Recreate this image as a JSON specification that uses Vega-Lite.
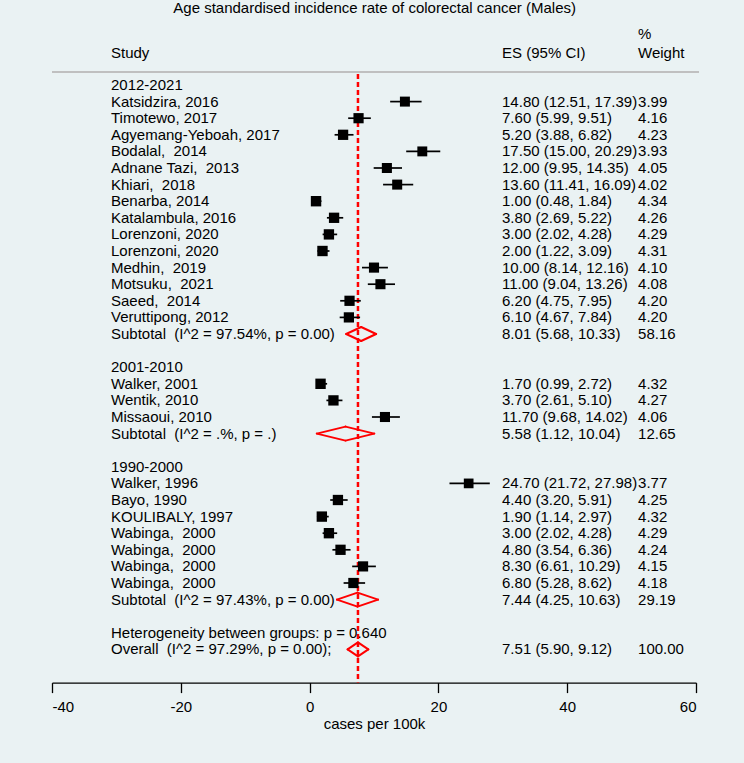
{
  "$schema": "https://vega.github.io/schema/vega-lite/v6.json",
  "width": 644,
  "height": 664,
  "autosize": {"type": "none"},
  "padding": {"left": 52, "top": 18.6, "right": 48, "bottom": 80.4},
  "background": "#EAF2F3",
  "config": {
    "font": "Liberation Sans",
    "view": {"stroke": null},
    "text": {"fontSize": 15, "color": "#000000", "baseline": "middle", "align": "left"}
  },
  "data": {"values": [
    {"row": 0, "label": "2012-2021", "type": "group"},
    {"row": 1, "label": "Katsidzira, 2016", "type": "study", "est": 14.80, "lci": 12.51, "uci": 17.39, "w": 3.99, "es": "14.80 (12.51, 17.39)", "wt": "3.99"},
    {"row": 2, "label": "Timotewo, 2017", "type": "study", "est": 7.60, "lci": 5.99, "uci": 9.51, "w": 4.16, "es": "7.60 (5.99, 9.51)", "wt": "4.16"},
    {"row": 3, "label": "Agyemang-Yeboah, 2017", "type": "study", "est": 5.20, "lci": 3.88, "uci": 6.82, "w": 4.23, "es": "5.20 (3.88, 6.82)", "wt": "4.23"},
    {"row": 4, "label": "Bodalal,\u00a0 2014", "type": "study", "est": 17.50, "lci": 15.00, "uci": 20.29, "w": 3.93, "es": "17.50 (15.00, 20.29)", "wt": "3.93"},
    {"row": 5, "label": "Adnane Tazi,\u00a0 2013", "type": "study", "est": 12.00, "lci": 9.95, "uci": 14.35, "w": 4.05, "es": "12.00 (9.95, 14.35)", "wt": "4.05"},
    {"row": 6, "label": "Khiari,\u00a0 2018", "type": "study", "est": 13.60, "lci": 11.41, "uci": 16.09, "w": 4.02, "es": "13.60 (11.41, 16.09)", "wt": "4.02"},
    {"row": 7, "label": "Benarba, 2014", "type": "study", "est": 1.00, "lci": 0.48, "uci": 1.84, "w": 4.34, "es": "1.00 (0.48, 1.84)", "wt": "4.34"},
    {"row": 8, "label": "Katalambula, 2016", "type": "study", "est": 3.80, "lci": 2.69, "uci": 5.22, "w": 4.26, "es": "3.80 (2.69, 5.22)", "wt": "4.26"},
    {"row": 9, "label": "Lorenzoni, 2020", "type": "study", "est": 3.00, "lci": 2.02, "uci": 4.28, "w": 4.29, "es": "3.00 (2.02, 4.28)", "wt": "4.29"},
    {"row": 10, "label": "Lorenzoni, 2020", "type": "study", "est": 2.00, "lci": 1.22, "uci": 3.09, "w": 4.31, "es": "2.00 (1.22, 3.09)", "wt": "4.31"},
    {"row": 11, "label": "Medhin,\u00a0 2019", "type": "study", "est": 10.00, "lci": 8.14, "uci": 12.16, "w": 4.10, "es": "10.00 (8.14, 12.16)", "wt": "4.10"},
    {"row": 12, "label": "Motsuku,\u00a0 2021", "type": "study", "est": 11.00, "lci": 9.04, "uci": 13.26, "w": 4.08, "es": "11.00 (9.04, 13.26)", "wt": "4.08"},
    {"row": 13, "label": "Saeed,\u00a0 2014", "type": "study", "est": 6.20, "lci": 4.75, "uci": 7.95, "w": 4.20, "es": "6.20 (4.75, 7.95)", "wt": "4.20"},
    {"row": 14, "label": "Veruttipong, 2012", "type": "study", "est": 6.10, "lci": 4.67, "uci": 7.84, "w": 4.20, "es": "6.10 (4.67, 7.84)", "wt": "4.20"},
    {"row": 15, "label": "Subtotal\u00a0 (I^2 = 97.54%, p = 0.00)", "type": "sub", "est": 8.01, "lci": 5.68, "uci": 10.33, "w": 58.16, "es": "8.01 (5.68, 10.33)", "wt": "58.16"},
    {"row": 17, "label": "2001-2010", "type": "group"},
    {"row": 18, "label": "Walker, 2001", "type": "study", "est": 1.70, "lci": 0.99, "uci": 2.72, "w": 4.32, "es": "1.70 (0.99, 2.72)", "wt": "4.32"},
    {"row": 19, "label": "Wentik, 2010", "type": "study", "est": 3.70, "lci": 2.61, "uci": 5.10, "w": 4.27, "es": "3.70 (2.61, 5.10)", "wt": "4.27"},
    {"row": 20, "label": "Missaoui, 2010", "type": "study", "est": 11.70, "lci": 9.68, "uci": 14.02, "w": 4.06, "es": "11.70 (9.68, 14.02)", "wt": "4.06"},
    {"row": 21, "label": "Subtotal\u00a0 (I^2 = .%, p = .)", "type": "sub", "est": 5.58, "lci": 1.12, "uci": 10.04, "w": 12.65, "es": "5.58 (1.12, 10.04)", "wt": "12.65"},
    {"row": 23, "label": "1990-2000", "type": "group"},
    {"row": 24, "label": "Walker, 1996", "type": "study", "est": 24.70, "lci": 21.72, "uci": 27.98, "w": 3.77, "es": "24.70 (21.72, 27.98)", "wt": "3.77"},
    {"row": 25, "label": "Bayo, 1990", "type": "study", "est": 4.40, "lci": 3.20, "uci": 5.91, "w": 4.25, "es": "4.40 (3.20, 5.91)", "wt": "4.25"},
    {"row": 26, "label": "KOULIBALY, 1997", "type": "study", "est": 1.90, "lci": 1.14, "uci": 2.97, "w": 4.32, "es": "1.90 (1.14, 2.97)", "wt": "4.32"},
    {"row": 27, "label": "Wabinga,\u00a0 2000", "type": "study", "est": 3.00, "lci": 2.02, "uci": 4.28, "w": 4.29, "es": "3.00 (2.02, 4.28)", "wt": "4.29"},
    {"row": 28, "label": "Wabinga,\u00a0 2000", "type": "study", "est": 4.80, "lci": 3.54, "uci": 6.36, "w": 4.24, "es": "4.80 (3.54, 6.36)", "wt": "4.24"},
    {"row": 29, "label": "Wabinga,\u00a0 2000", "type": "study", "est": 8.30, "lci": 6.61, "uci": 10.29, "w": 4.15, "es": "8.30 (6.61, 10.29)", "wt": "4.15"},
    {"row": 30, "label": "Wabinga,\u00a0 2000", "type": "study", "est": 6.80, "lci": 5.28, "uci": 8.62, "w": 4.18, "es": "6.80 (5.28, 8.62)", "wt": "4.18"},
    {"row": 31, "label": "Subtotal\u00a0 (I^2 = 97.43%, p = 0.00)", "type": "sub", "est": 7.44, "lci": 4.25, "uci": 10.63, "w": 29.19, "es": "7.44 (4.25, 10.63)", "wt": "29.19"},
    {"row": 33, "label": "Heterogeneity between groups: p = 0.640", "type": "het"},
    {"row": 34, "label": "Overall\u00a0 (I^2 = 97.29%, p = 0.00);", "type": "overall", "est": 7.51, "lci": 5.90, "uci": 9.12, "w": 100.00, "es": "7.51 (5.90, 9.12)", "wt": "100.00"}
  ]},
  "layer": [
    {
      "data": {"values": [{}]},
      "mark": {"type": "rule", "color": "#FF0000", "strokeWidth": 2.5, "strokeDash": [5, 3]},
      "encoding": {
        "x": {"datum": 7.51, "type": "quantitative", "scale": {"domain": [-40, 60], "nice": false, "zero": false},
          "axis": {"title": "cases per 100k", "values": [-40, -20, 0, 20, 40, 60], "labelExpr": "datum.value + ''", "grid": false,
            "domainColor": "#000000", "domainWidth": 1.3, "tickColor": "#000000", "tickWidth": 1.3, "tickSize": 10,
            "labelFontSize": 15, "labelColor": "#000000", "labelPadding": 7, "labelFont": "Liberation Sans",
            "titleFontSize": 15, "titleFontWeight": "normal", "titleColor": "#000000", "titlePadding": 2, "titleFont": "Liberation Sans"}},
        "y": {"datum": -0.66, "type": "quantitative", "scale": {"domain": [-4, 36], "reverse": true, "nice": false, "zero": false}, "axis": null},
        "y2": {"datum": 36}
      }
    },
    {
      "data": {"values": [{}]},
      "mark": {"type": "rule", "color": "#C0C0C0", "strokeWidth": 2},
      "encoding": {
        "x": {"datum": -40, "type": "quantitative"},
        "x2": {"datum": 60.47},
        "y": {"datum": -0.78, "type": "quantitative"}
      }
    },
    {
      "transform": [{"filter": "datum.type === 'study'"}],
      "mark": {"type": "rule", "color": "#000000", "strokeWidth": 1.7},
      "encoding": {
        "x": {"field": "lci", "type": "quantitative"},
        "x2": {"field": "uci"},
        "y": {"field": "row", "type": "quantitative"}
      }
    },
    {
      "transform": [{"filter": "datum.type === 'study'"}],
      "mark": {"type": "point", "shape": "square", "filled": true, "color": "#000000", "opacity": 1},
      "encoding": {
        "x": {"field": "est", "type": "quantitative"},
        "y": {"field": "row", "type": "quantitative"},
        "size": {"field": "w", "type": "quantitative", "scale": {"domain": [0, 4], "range": [0, 100]}, "legend": null}
      }
    },
    {
      "transform": [{"filter": "datum.type === 'sub' || datum.type === 'overall'"}],
      "mark": {"type": "rule", "color": "#FF0000", "strokeWidth": 2, "strokeCap": "round", "y2Offset": -7},
      "encoding": {
        "x": {"field": "lci", "type": "quantitative"},
        "x2": {"field": "est"},
        "y": {"field": "row", "type": "quantitative"},
        "y2": {"field": "row"}
      }
    },
    {
      "transform": [{"filter": "datum.type === 'sub' || datum.type === 'overall'"}],
      "mark": {"type": "rule", "color": "#FF0000", "strokeWidth": 2, "strokeCap": "round", "y2Offset": 7},
      "encoding": {
        "x": {"field": "lci", "type": "quantitative"},
        "x2": {"field": "est"},
        "y": {"field": "row", "type": "quantitative"},
        "y2": {"field": "row"}
      }
    },
    {
      "transform": [{"filter": "datum.type === 'sub' || datum.type === 'overall'"}],
      "mark": {"type": "rule", "color": "#FF0000", "strokeWidth": 2, "strokeCap": "round", "yOffset": -7},
      "encoding": {
        "x": {"field": "est", "type": "quantitative"},
        "x2": {"field": "uci"},
        "y": {"field": "row", "type": "quantitative"},
        "y2": {"field": "row"}
      }
    },
    {
      "transform": [{"filter": "datum.type === 'sub' || datum.type === 'overall'"}],
      "mark": {"type": "rule", "color": "#FF0000", "strokeWidth": 2, "strokeCap": "round", "yOffset": 7},
      "encoding": {
        "x": {"field": "est", "type": "quantitative"},
        "x2": {"field": "uci"},
        "y": {"field": "row", "type": "quantitative"},
        "y2": {"field": "row"}
      }
    },
    {
      "mark": {"type": "text"},
      "encoding": {
        "x": {"datum": -30.84, "type": "quantitative"},
        "y": {"field": "row", "type": "quantitative"},
        "text": {"field": "label"}
      }
    },
    {
      "transform": [{"filter": "isValid(datum.es)"}],
      "mark": {"type": "text"},
      "encoding": {
        "x": {"datum": 29.88, "type": "quantitative"},
        "y": {"field": "row", "type": "quantitative"},
        "text": {"field": "es"}
      }
    },
    {
      "transform": [{"filter": "isValid(datum.wt)"}],
      "mark": {"type": "text"},
      "encoding": {
        "x": {"datum": 51.0, "type": "quantitative"},
        "y": {"field": "row", "type": "quantitative"},
        "text": {"field": "wt"}
      }
    },
    {
      "data": {"values": [{}]},
      "mark": {"type": "text", "align": "center"},
      "encoding": {
        "x": {"datum": 10.1, "type": "quantitative"},
        "y": {"datum": -4.66, "type": "quantitative"},
        "text": {"value": "Age standardised incidence rate of colorectal cancer (Males)"}
      }
    },
    {
      "data": {"values": [{}]},
      "mark": {"type": "text"},
      "encoding": {
        "x": {"datum": -30.84, "type": "quantitative"},
        "y": {"datum": -1.93, "type": "quantitative"},
        "text": {"value": "Study"}
      }
    },
    {
      "data": {"values": [{}]},
      "mark": {"type": "text"},
      "encoding": {
        "x": {"datum": 29.88, "type": "quantitative"},
        "y": {"datum": -1.93, "type": "quantitative"},
        "text": {"value": "ES (95% CI)"}
      }
    },
    {
      "data": {"values": [{}]},
      "mark": {"type": "text"},
      "encoding": {
        "x": {"datum": 51.0, "type": "quantitative"},
        "y": {"datum": -3.07, "type": "quantitative"},
        "text": {"value": "%"}
      }
    },
    {
      "data": {"values": [{}]},
      "mark": {"type": "text"},
      "encoding": {
        "x": {"datum": 51.0, "type": "quantitative"},
        "y": {"datum": -1.93, "type": "quantitative"},
        "text": {"value": "Weight"}
      }
    }
  ]
}
